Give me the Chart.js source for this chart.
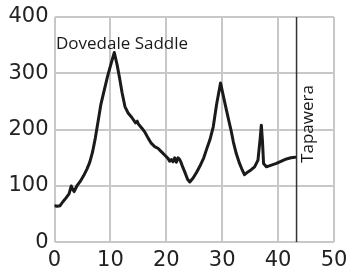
<!DOCTYPE html>
<html><head><meta charset="utf-8">
<script src="https://cdn.jsdelivr.net/npm/chart.js@4.4.1/dist/chart.umd.min.js"></script>
<style>html,body{margin:0;padding:0;background:#fff}#w{width:348px;height:270px}</style>
</head><body><div id="w"><canvas id="c"></canvas></div>
<script>
const distanceKm = [0,0.5,1.0,1.5,2.0,2.6,3.0,3.2,3.5,4.0,4.6,5.2,5.8,6.3,6.8,7.3,7.8,8.3,8.9,9.5,10.2,10.7,11.2,11.6,12.1,12.6,13.2,13.8,14.5,14.8,15.0,15.6,16.2,16.75,17.3,17.9,18.5,19.1,19.7,20.3,20.6,20.9,21.2,21.5,21.8,22.1,22.4,22.7,23.0,23.3,23.8,24.2,24.8,25.4,26.0,26.7,27.2,27.8,28.4,29.0,29.7,30.2,30.75,31.2,31.6,32.0,32.5,33.1,33.6,34.0,34.6,35.2,35.8,36.4,36.8,37.0,37.2,37.4,37.9,38.8,39.7,40.6,41.5,42.3,43.0];
const elevationM = [65,64,65,72,78,86,100,95,90,100,108,118,130,142,160,185,215,245,270,295,320,337,315,294,265,241,229,222,212,215,210,203,195,185,176,170,167,161,155,149,144,147,143,150,142,150,147,140,132,125,112,107,114,124,135,150,165,182,205,245,283,260,235,215,198,178,158,140,128,120,125,129,134,146,185,208,180,140,134,137,140,144,148,150,151];
const markerX = [43.3, 43.3];
const markerY = [0, 400];
const xTicks = [0,10,20,30,40,50];
const yTicks = [0,100,200,300,400];
const startLabel = "Dovedale Saddle";
const endLabel = "Tapawera";

const profile = distanceKm.map((x,i)=>({x, y: elevationM[i]}));
const marker = markerX.map((x,i)=>({x, y: markerY[i]}));

const labelsPlugin = {
  id: 'labels',
  afterDatasetsDraw(chart){
    const {ctx, scales:{x,y}} = chart;
    ctx.save();
    ctx.fillStyle = '#1a1a1a';
    ctx.font = '17px "Open Sans"';
    ctx.textBaseline = 'alphabetic';
    ctx.textAlign = 'left';
    ctx.fillText(startLabel, x.getPixelForValue(0) + 1.5, y.getPixelForValue(345) + 1);
    const px = x.getPixelForValue(markerX[0]) + 16;
    const py = y.getPixelForValue(210);
    ctx.translate(px, py);
    ctx.rotate(-Math.PI/2);
    ctx.textAlign = 'center';
    ctx.fillText(endLabel, 0, 0);
    ctx.restore();
  }
};

new Chart(document.getElementById('c'), {
  type: 'scatter',
  data: { datasets: [
    { data: profile, showLine: true, borderColor: '#1a1a1a', borderWidth: 3, pointRadius: 0, tension: 0, borderJoinStyle: 'round', borderCapStyle: 'round' },
    { data: marker, showLine: true, borderColor: '#333', borderWidth: 1.5, pointRadius: 0 }
  ]},
  options: {
    responsive: true, maintainAspectRatio: false, animation: false,
    layout: { padding: { left: 0, right: 14, top: 17, bottom: 0 } },
    plugins: { legend: { display: false }, tooltip: { enabled: false } },
    scales: {
      x: {
        type: 'linear', min: 0, max: 50,
        afterBuildTicks(s){ s.ticks = xTicks.map(v=>({value:v})); },
        afterFit(s){ s.height = 27.7; s.paddingLeft = 0; s.paddingRight = 0; },
        grid: { color: '#c8c8c8', lineWidth: 2, drawTicks: false },
        border: { display: false },
        ticks: { color: '#222', font: { family: 'DejaVu Sans', size: 21 }, padding: 6, maxRotation: 0 }
      },
      y: {
        type: 'linear', min: 0, max: 400,
        afterBuildTicks(s){ s.ticks = yTicks.map(v=>({value:v})); },
        afterFit(s){ s.width = 54.5; s.paddingTop = 0; s.paddingBottom = 0; },
        grid: { color: '#c8c8c8', lineWidth: 2, drawTicks: false },
        border: { display: false },
        ticks: { color: '#222', font: { family: 'DejaVu Sans', size: 21 }, padding: 6 }
      }
    }
  },
  plugins: [labelsPlugin]
});
</script>
</body></html>
